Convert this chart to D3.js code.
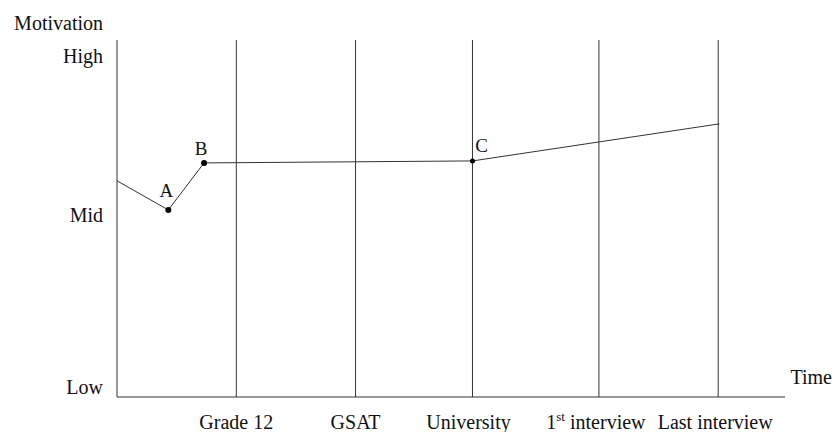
<!DOCTYPE html>
<html>
<head>
<meta charset="utf-8">
<script src="https://cdn.jsdelivr.net/npm/d3@7"></script>
<style>
  html, body { margin: 0; padding: 0; background: #fff; }
  svg { display: block; }
  text { font-family: "Liberation Serif", "Times New Roman", serif; fill: #111; }
</style>
</head>
<body>
<svg id="chart" width="834" height="432"></svg>
<script>
// ---- data ----
const eventLabels = ["Grade 12", "GSAT", "University", "1st interview", "Last interview"];
const eventTimes  = [1, 2, 2.98, 4.04, 5.04];
const levelLabels = ["Low", "Mid", "High"];
const levelValues = [0, 52, 100];
const pathTimes   = [0, 0.43, 0.73, 2.98, 5.05];
const pathValues  = [62.3, 53.5, 67.7, 68.3, 79.5];
const pointNames  = ["", "A", "B", "C", ""];

// ---- layout ----
const svg = d3.select("#chart");
const x = d3.scaleLinear().domain([0, 5.6]).range([117, 785]);
const y = d3.scaleLinear().domain([0, 100]).range([387, 56]);
const axisTop = 40, axisBottom = 397;

// axes lines
svg.append("line").attr("x1", x(0)).attr("x2", x(0))
  .attr("y1", axisTop).attr("y2", axisBottom)
  .attr("stroke", "#333").attr("stroke-width", 1);
svg.append("line").attr("x1", x(0)).attr("x2", x(5.6))
  .attr("y1", axisBottom).attr("y2", axisBottom)
  .attr("stroke", "#333").attr("stroke-width", 1);

// event vertical lines
svg.selectAll("line.event").data(eventTimes).enter().append("line")
  .attr("class", "event")
  .attr("x1", d => x(d)).attr("x2", d => x(d))
  .attr("y1", axisTop).attr("y2", axisBottom)
  .attr("stroke", "#333").attr("stroke-width", 1);

// event labels
const evLab = svg.selectAll("text.ev").data(eventLabels).enter().append("text")
  .attr("class", "ev")
  .attr("x", (d, i) => x(eventTimes[i]) - (i === 2 ? 4 : (i >= 3 ? 3 : 0)))
  .attr("y", 429)
  .attr("text-anchor", "middle")
  .attr("font-size", 20);
evLab.each(function(d) {
  const t = d3.select(this);
  const m = d.match(/^(\d+)(st|nd|rd|th)(.*)$/);
  if (m) {
    t.append("tspan").text(m[1]);
    t.append("tspan").attr("font-size", 13).attr("dy", -8).text(m[2]);
    t.append("tspan").attr("dy", 8).text(m[3]);
  } else {
    t.text(d);
  }
});

// level labels
svg.selectAll("text.lv").data(levelLabels).enter().append("text")
  .attr("class", "lv")
  .attr("x", 103)
  .attr("y", (d, i) => y(levelValues[i]) + 7)
  .attr("text-anchor", "end")
  .attr("font-size", 20)
  .text(d => d);

// axis titles
svg.append("text").attr("x", 103).attr("y", 30)
  .attr("text-anchor", "end").attr("font-size", 20).text("Motivation");
svg.append("text").attr("x", 832).attr("y", 384)
  .attr("text-anchor", "end").attr("font-size", 20).text("Time");

// motivation path
const pts = pathTimes.map((t, i) => [t, pathValues[i]]);
svg.append("path").datum(pts)
  .attr("d", d3.line().x(d => x(d[0])).y(d => y(d[1])))
  .attr("fill", "none").attr("stroke", "#333").attr("stroke-width", 1);

// points
const named = pts.map((p, i) => ({ p, name: pointNames[i] })).filter(d => d.name);
svg.selectAll("circle.pt").data(named).enter().append("circle")
  .attr("cx", d => x(d.p[0])).attr("cy", d => y(d.p[1]))
  .attr("r", d => d.name === "C" ? 2.5 : 3)
  .attr("fill", "#000");
const labOff = { A: [-2, -13], B: [-3, -8], C: [9, -9] };
svg.selectAll("text.pt").data(named).enter().append("text")
  .attr("x", d => x(d.p[0]) + labOff[d.name][0])
  .attr("y", d => y(d.p[1]) + labOff[d.name][1])
  .attr("text-anchor", "middle")
  .attr("font-size", 19)
  .text(d => d.name);
</script>
</body>
</html>
